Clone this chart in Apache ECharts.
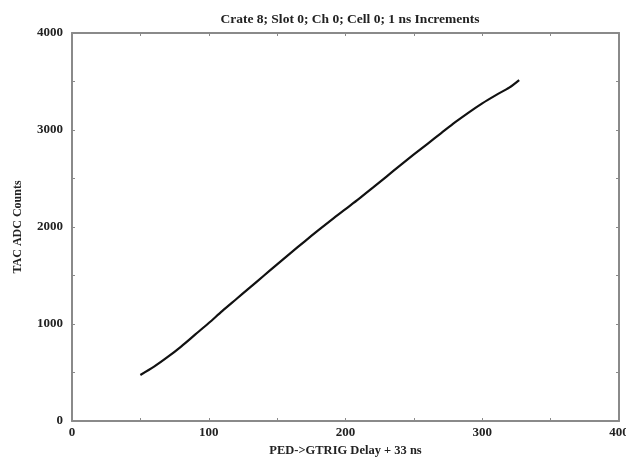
<!DOCTYPE html>
<html>
<head>
<meta charset="utf-8">
<script src="https://cdn.jsdelivr.net/npm/echarts@6/dist/echarts.min.js"></script>
<style>html,body{margin:0;padding:0;background:#fff;}#c{width:626px;height:461px;}</style>
</head>
<body>
<div id="c"></div>
<script>
var delays = [50,60,70,80,90,100,110,120,130,140,150,160,170,180,190,200,210,220,230,240,250,260,270,280,290,300,310,320,327];
var counts = [475,560,660,770,890,1010,1135,1255,1375,1495,1615,1733,1850,1965,2077,2185,2293,2405,2520,2635,2748,2858,2968,3078,3180,3275,3360,3440,3515];
var titleText = 'Crate 8; Slot 0; Ch 0; Cell 0; 1 ns Increments';
var xName = 'PED->GTRIG Delay + 33 ns';
var yName = 'TAC ADC Counts';

var font = 'Liberation Serif';
var axisCol = '#8a8a8a';
var chart = echarts.init(document.getElementById('c'));
function xAx(pos, show) {
  return {
    type: 'value', position: pos, min: 0, max: 400, interval: 100,
    axisLine: {show: true, onZero: false, lineStyle: {color: axisCol, width: 2}},
    axisTick: {show: true, inside: true, length: 3, lineStyle: {color: axisCol}},
    minorTick: {show: true, splitNumber: 2, length: 3, lineStyle: {color: axisCol}},
    splitLine: {show: false},
    axisLabel: {show: show, color: '#222', fontFamily: font, fontWeight: 'bold', fontSize: 13, margin: 5,
      formatter: function (v) { return String(v); }},
    name: show ? xName : '', nameLocation: 'middle', nameGap: 22,
    nameTextStyle: {color: '#222', fontFamily: font, fontWeight: 'bold', fontSize: 12.5}
  };
}
function yAx(pos, show) {
  return {
    type: 'value', position: pos, min: 0, max: 4000, interval: 1000,
    axisLine: {show: true, onZero: false, lineStyle: {color: axisCol, width: 2}},
    axisTick: {show: true, inside: true, length: 3, lineStyle: {color: axisCol}},
    minorTick: {show: true, splitNumber: 2, length: 3, lineStyle: {color: axisCol}},
    splitLine: {show: false},
    axisLabel: {show: show, color: '#222', fontFamily: font, fontWeight: 'bold', fontSize: 13, margin: 9,
      formatter: function (v) { return String(v); }},
    name: show ? yName : '', nameLocation: 'middle', nameGap: 48,
    nameTextStyle: {color: '#222', fontFamily: font, fontWeight: 'bold', fontSize: 12}
  };
}
chart.setOption({
  backgroundColor: '#fff',
  animation: false,
  title: {
    text: titleText, left: 345, top: 8, textAlign: 'center',
    textStyle: {color: '#222', fontFamily: font, fontWeight: 'bold', fontSize: 13.5}
  },
  grid: {left: 72, top: 33, right: 7, bottom: 40, outerBoundsMode: 'none', containLabel: false},
  xAxis: [xAx('bottom', true), xAx('top', false)],
  yAxis: [yAx('left', true), yAx('right', false)],
  series: [{
    type: 'line', xAxisIndex: 0, yAxisIndex: 0,
    data: delays.map(function (d, i) { return [d, counts[i]]; }),
    showSymbol: false, smooth: 0.3,
    lineStyle: {color: '#111', width: 2.2}
  }]
});
</script>
</body>
</html>
